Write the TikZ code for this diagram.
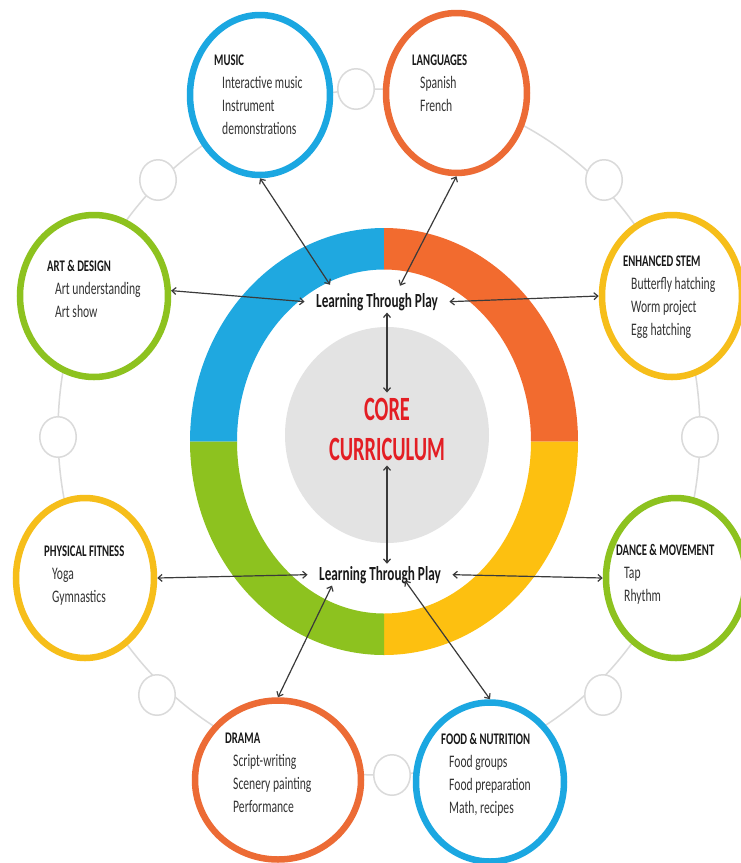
\documentclass[tikz,border=0pt]{standalone}
\usepackage{fontspec}
\setmainfont{Carlito}
\newfontfamily\cf[FakeStretch=0.66]{Carlito}
\newfontfamily\cfc[FakeStretch=0.6]{Carlito}
\usetikzlibrary{shapes.geometric,arrows.meta,calc}
\definecolor{rblue}{HTML}{1FA8E0}
\definecolor{rorange}{HTML}{F26B2F}
\definecolor{rgreen}{HTML}{8DC21F}
\definecolor{ryellow}{HTML}{FDC010}
\definecolor{cblue}{HTML}{1BA7E1}
\definecolor{corange}{HTML}{EC6B35}
\definecolor{cgreen}{HTML}{8DC21F}
\definecolor{cyellow}{HTML}{F6BE1A}
\definecolor{coregray}{HTML}{E3E3E3}
\definecolor{lgray}{HTML}{DADADA}
\definecolor{agray}{HTML}{3A3A3A}
\definecolor{tgray}{HTML}{333333}
\definecolor{cred}{HTML}{E31E24}
\newcommand\ringpart[3]{\fill[#1] (#2:194pt and 213.5pt) arc[start angle=#2,end angle=#3,x radius=194pt,y radius=213.5pt] -- (#3:147pt and 172pt) arc[start angle=#3,end angle=#2,x radius=147pt,y radius=172pt] -- cycle;}
\newcommand\ctext[5]{%
  \node[ttl] (#1t) at (#2,-#3) {#4};
  \foreach \s [count=\i] in {#5} {\node[itm] (#1\i) at (#2+8,-#3-\i*23) {\s};}%
}
\begin{document}
\begin{tikzpicture}[x=1pt,y=1pt,
  bigc/.style={ellipse, draw, line width=6.5pt, fill=white, inner sep=0pt},
  smallc/.style={ellipse, draw=lgray, line width=1.5pt, fill=white, minimum width=36.5pt, minimum height=40.5pt, inner sep=0pt},
  ttl/.style={anchor=base west, inner sep=0pt, font=\cf\bfseries\fontsize{16.2}{19}\selectfont, text=black!90},
  itm/.style={anchor=base west, inner sep=0pt, font=\cf\fontsize{17.6}{20}\selectfont, text=tgray},
  ltp/.style={font=\cf\bfseries\fontsize{20}{23}\selectfont, inner xsep=11.5pt, inner ysep=2pt, anchor=base, text=black!90},
  link/.style={draw=agray, line width=1.2pt, {Straight Barb[length=4pt,width=7pt]}-{Straight Barb[length=4pt,width=7pt]}}
]
\useasboundingbox (0,0) rectangle (740,-863);
\fill[white] (0,0) rectangle (740,-863);
% connecting ring
\draw[lgray, line width=1.5pt] (379,-432) ellipse [x radius=321pt, y radius=343pt];
% small circles
\node[smallc] (s1) at (356,-89) {};
\node[smallc] (s2) at (604,-180) {};
\node[smallc] (s3) at (700,-437) {};
\node[smallc] (s4) at (603,-695) {};
\node[smallc] (s5) at (392,-775) {};
\node[smallc] (s6) at (157,-695) {};
\node[smallc] (s7) at (58,-437) {};
\node[smallc] (s8) at (158,-180) {};
% big circles
\node[bigc, draw=cblue, minimum width=140pt, minimum height=160pt] (music) at (260,-95) {};
\node[bigc, draw=corange, minimum width=141pt, minimum height=160pt] (lang) at (456.5,-93) {};
\node[bigc, draw=cgreen, minimum width=148pt, minimum height=162pt] (art) at (94,-296) {};
\node[bigc, draw=cyellow, minimum width=140pt, minimum height=162pt] (stem) at (672,-296) {};
\node[bigc, draw=cyellow, minimum width=138pt, minimum height=160pt] (fit) at (85,-578) {};
\node[bigc, draw=cgreen, minimum width=140pt, minimum height=160pt] (dance) at (676,-578) {};
\node[bigc, draw=corange, minimum width=166pt, minimum height=159pt] (drama) at (278,-780) {};
\node[bigc, draw=cblue, minimum width=148pt, minimum height=159pt] (food) at (490,-782) {};
% central ring
\begin{scope}[shift={(384,-441.5)}]
\ringpart{rblue}{180}{90}
\ringpart{rorange}{90}{0}
\ringpart{ryellow}{0}{-90}
\ringpart{rgreen}{-90}{-180}
\end{scope}
\node[ellipse, fill=coregray, minimum width=204pt, minimum height=216pt, inner sep=0pt] (core) at (387,-435) {};
\node[font=\cfc\bfseries\fontsize{34}{40}\selectfont, text=cred, align=center, inner sep=5pt] (coretext) at (387,-429) {CORE\\CURRICULUM};
\node[ltp] (ltp1) at (377,-307) {Learning Through Play};
\node[ltp] (ltp2) at (380,-580) {Learning Through Play};
% circle texts
\ctext{music}{214}{65}{MUSIC}{Interactive music, Instrument, demonstrations}
\ctext{lang}{412}{65}{LANGUAGES}{Spanish, French}
\ctext{art}{47}{271}{ART \& DESIGN}{Art understanding, Art show}
\ctext{stem}{623}{266}{ENHANCED STEM}{Butterfly hatching, Worm project, Egg hatching}
\ctext{fit}{44}{556}{PHYSICAL FITNESS}{Yoga, Gymnastics}
\ctext{dance}{616}{555}{DANCE \& MOVEMENT}{Tap, Rhythm}
\ctext{drama}{225}{743}{DRAMA}{Script-writing, Scenery painting, Performance}
\ctext{food}{441}{744}{FOOD \& NUTRITION}{Food groups, Food preparation, {Math, recipes}}
% connectors
\draw[link] (music.south) -- ([xshift=-47pt,yshift=6pt]ltp1.north);
\draw[link] (lang.south) -- ([xshift=23pt,yshift=5pt]ltp1.north);
\draw[link] (art.4) -- (ltp1.west);
\draw[link] (stem.west) -- (ltp1.east);
\draw[link] (coretext.north |- ltp1.south) -- (coretext.north);
\draw[link] (coretext.south) -- (coretext.south |- ltp2.north);
\draw[link] (fit.east) -- (ltp2.west);
\draw[link] (dance.west) -- (ltp2.east);
\draw[link] (drama.north) -- ([xshift=-48pt]ltp2.south);
\draw[link] (food.north) -- ([xshift=25pt,yshift=5pt]ltp2.south);
\end{tikzpicture}
\end{document}
